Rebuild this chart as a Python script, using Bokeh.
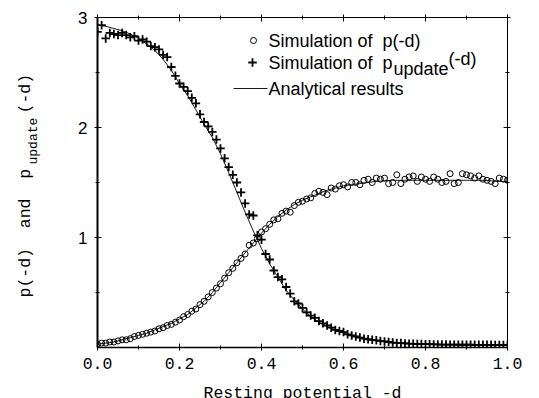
import math
import numpy as np
from bokeh.plotting import figure
from bokeh.models import Range1d, LinearAxis, FixedTicker, Label, CustomJSTickFormatter
from bokeh.embed import file_html
from bokeh.resources import INLINE

# ---------------- data ----------------
x_sim = np.round(np.arange(0, 101) * 0.01, 2)
p_sim = [0.03, 0.04, 0.04, 0.05, 0.05, 0.06, 0.07, 0.07, 0.08, 0.10,
         0.11, 0.12, 0.13, 0.14, 0.15, 0.17, 0.18, 0.20, 0.21, 0.23,
         0.25, 0.28, 0.30, 0.33, 0.35, 0.39, 0.42, 0.46, 0.50, 0.54,
         0.58, 0.63, 0.68, 0.72, 0.77, 0.81, 0.85, 0.93, 0.95, 0.99,
         1.05, 1.08, 1.12, 1.16, 1.17, 1.22, 1.24, 1.23, 1.29, 1.32,
         1.33, 1.35, 1.36, 1.40, 1.42, 1.41, 1.39, 1.45, 1.44, 1.47,
         1.48, 1.46, 1.50, 1.50, 1.48, 1.52, 1.53, 1.50, 1.54, 1.53,
         1.54, 1.49, 1.50, 1.57, 1.49, 1.53, 1.55, 1.56, 1.51, 1.55,
         1.53, 1.51, 1.55, 1.53, 1.50, 1.51, 1.58, 1.49, 1.50, 1.58,
         1.57, 1.56, 1.54, 1.56, 1.53, 1.52, 1.51, 1.49, 1.54, 1.53,
         1.52]
pu_sim = [2.87, 2.93, 2.81, 2.86, 2.85, 2.84, 2.86, 2.84, 2.82, 2.83,
          2.79, 2.80, 2.78, 2.74, 2.73, 2.71, 2.66, 2.64, 2.55, 2.47,
          2.40, 2.37, 2.33, 2.27, 2.22, 2.12, 2.05, 2.01, 1.96, 1.89,
          1.81, 1.72, 1.64, 1.57, 1.50, 1.41, 1.31, 1.21, 1.20, 1.02,
          0.98, 0.85, 0.80, 0.70, 0.64, 0.62, 0.55, 0.49, 0.42, 0.40,
          0.36, 0.32, 0.29, 0.27, 0.24, 0.22, 0.20, 0.18, 0.16, 0.15,
          0.14, 0.12, 0.11, 0.10, 0.09, 0.08, 0.075, 0.07, 0.065, 0.06,
          0.055, 0.05, 0.045, 0.042, 0.04, 0.037, 0.035, 0.033, 0.032, 0.031,
          0.030, 0.030, 0.028, 0.028, 0.027, 0.027, 0.026, 0.026, 0.025, 0.025,
          0.025, 0.025, 0.024, 0.024, 0.024, 0.024, 0.024, 0.023, 0.023, 0.023,
          0.023]

x_ana = np.round(np.arange(0, 51) * 0.02, 2)
p_ana = [0.03, 0.04, 0.05, 0.07, 0.09, 0.11, 0.13, 0.16, 0.19, 0.22,
         0.26, 0.30, 0.36, 0.42, 0.50, 0.59, 0.68, 0.77, 0.86, 0.95,
         1.04, 1.12, 1.19, 1.25, 1.30, 1.34, 1.37, 1.40, 1.43, 1.45,
         1.47, 1.48, 1.49, 1.50, 1.51, 1.515, 1.52, 1.52, 1.52, 1.52,
         1.52, 1.52, 1.52, 1.52, 1.52, 1.52, 1.52, 1.52, 1.515, 1.51,
         1.51]
pu_ana = [2.93, 2.92, 2.90, 2.88, 2.85, 2.81, 2.76, 2.70, 2.62, 2.52,
          2.40, 2.29, 2.16, 2.03, 1.91, 1.76, 1.59, 1.41, 1.23, 1.06,
          0.90, 0.76, 0.64, 0.52, 0.43, 0.35, 0.28, 0.23, 0.19, 0.16,
          0.13, 0.11, 0.09, 0.075, 0.065, 0.055, 0.048, 0.042, 0.037, 0.033,
          0.030, 0.028, 0.026, 0.025, 0.024, 0.023, 0.022, 0.022, 0.022, 0.022,
          0.022]

x_ticks = [0.0, 0.2, 0.4, 0.6, 0.8, 1.0]
x_tick_labels = ["0.0", "0.2", "0.4", "0.6", "0.8", "1.0"]
x_minor = [0.1, 0.3, 0.5, 0.7, 0.9]
y_ticks = [1, 2, 3]
y_tick_labels = ["1", "2", "3"]
y_minor = [0.5, 1.5, 2.5]

NB = "\u00a0"
legend_texts = ["Simulation of" + NB + NB + "p(-d)",
                "Simulation of" + NB + NB + "p", "update", "(-d)",
                "Analytical results"]
x_title = "Resting potential -d"
y_title_parts = ["p(-d)" + NB + NB + "and" + NB + NB + "p", "update", "(-d)"]

# ---------------- layout ----------------
W, H = 539, 398
L, R, T, B = 97, 507, 17, 347
X0, X1, Y0, Y1 = 0.0, 1.0, 0.0, 3.0


def sx(px):
    return X0 + (px - L) / (R - L) * (X1 - X0)


def sy(py):
    return Y0 + (B - py) / (B - T) * (Y1 - Y0)


p = figure(width=W, height=H, x_range=Range1d(X0, X1), y_range=Range1d(Y0, Y1),
           output_backend="svg", toolbar_location=None,
           min_border_left=L, min_border_right=W - R, min_border_top=T, min_border_bottom=H - B,
           x_axis_location=None, y_axis_location=None)
p.outline_line_color = None
p.background_fill_color = "white"
p.border_fill_color = "white"
for g in p.grid:
    g.visible = False

xt = FixedTicker(ticks=x_ticks, minor_ticks=x_minor)
yt = FixedTicker(ticks=y_ticks, minor_ticks=y_minor)


def style(ax, lw):
    ax.axis_line_color = "black"
    ax.axis_line_width = lw
    ax.major_tick_line_color = "black"
    ax.minor_tick_line_color = "black"
    ax.major_tick_in = 4
    ax.major_tick_out = 3
    ax.minor_tick_in = 2
    ax.minor_tick_out = 2


bottom = LinearAxis(ticker=xt, major_label_overrides=dict(zip(x_ticks, x_tick_labels)))
style(bottom, 1.5)
bottom.major_label_text_font = "Liberation Mono"
bottom.major_label_text_font_size = "16.5px"
bottom.major_label_text_color = "black"
bottom.major_label_standoff = 7
p.add_layout(bottom, "below")

left = LinearAxis(ticker=yt, major_label_overrides=dict(zip(y_ticks, y_tick_labels)))
style(left, 2)
left.major_label_text_font = "Liberation Sans"
left.major_label_text_font_size = "17px"
left.major_label_text_color = "black"
left.major_label_standoff = 7
p.add_layout(left, "left")

blank = "return ''"
top = LinearAxis(ticker=xt, formatter=CustomJSTickFormatter(code=blank))
style(top, 1)
top.major_label_text_font_size = "1px"
top.major_label_standoff = 0
p.add_layout(top, "above")

right = LinearAxis(ticker=yt, formatter=CustomJSTickFormatter(code=blank))
style(right, 1)
right.major_label_text_font_size = "1px"
right.major_label_standoff = 0
p.add_layout(right, "right")

# ---------------- marks ----------------
p.line(x_ana, p_ana, line_color="black", line_width=0.9)
p.line(x_ana, pu_ana, line_color="black", line_width=0.9)
p.scatter(x_sim, p_sim, marker="circle", size=6, fill_color="white", fill_alpha=0.0,
          line_color="black", line_width=1)
p.scatter(x_sim, pu_sim, marker="cross", size=8.5, line_color="black", line_width=1.8)

# ---------------- legend ----------------
p.scatter([sx(253)], [sy(40)], marker="circle", size=6, fill_color="white",
          line_color="black", line_width=1)
p.scatter([sx(252)], [sy(62)], marker="cross", size=8.5, line_color="black", line_width=1.8)
p.line([sx(233), sx(267)], [sy(88), sy(88)], line_color="black", line_width=0.9)

leg_font = "Liberation Sans"


def lab(px, py, text, size, font=leg_font, angle=0.0, align="left", place=None):
    lb = Label(x=sx(px), y=sy(py), text=text, text_font=font, text_font_size=size,
               text_color="black", text_align=align, text_baseline="middle",
               angle=angle)
    if place is None:
        p.add_layout(lb)
    else:
        p.add_layout(lb, place)


lab(268, 40, legend_texts[0], "18px")
lab(268, 62, legend_texts[1], "18px")
lab(393, 68, legend_texts[2], "18px")
lab(448, 58, legend_texts[3], "18px")
lab(268, 88, legend_texts[4], "18px")

# axis titles (placed in the side panels so they are not clipped to the frame)
mono = "Liberation Mono"
lab(302, 392.5, x_title, "16.5px", font=mono, align="center", place="below")
lab(25, 297, y_title_parts[0], "16.5px", font=mono, angle=math.pi / 2, place="left")
lab(33, 164, y_title_parts[1], "13px", font=mono, angle=math.pi / 2, place="left")
lab(25, 113, y_title_parts[2], "16.5px", font=mono, angle=math.pi / 2, place="left")

open("out.html", "w").write(file_html(p, INLINE))
